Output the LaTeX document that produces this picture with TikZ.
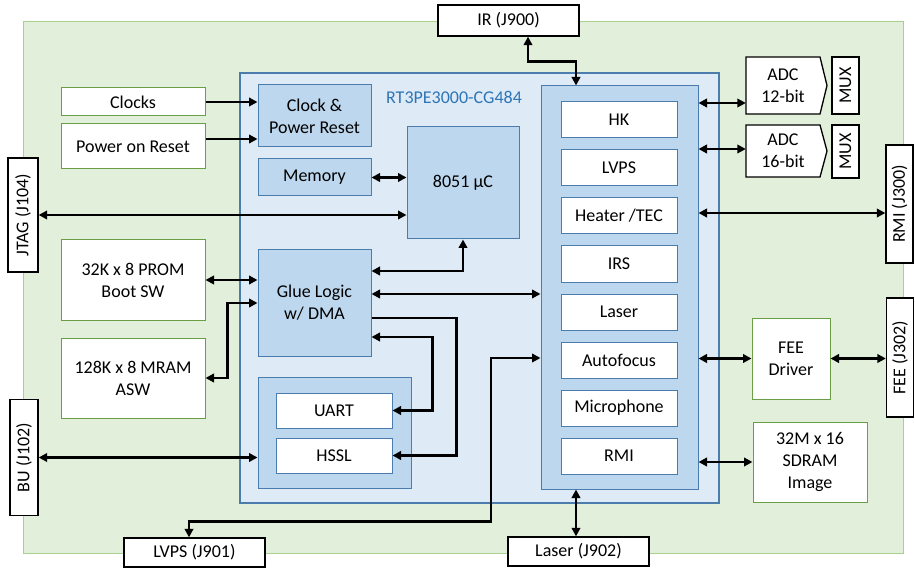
\documentclass[tikz,border=0pt]{standalone}
\usepackage{fontspec}
\setmainfont{Carlito}
\usetikzlibrary{arrows.meta}
\definecolor{bggreen}{HTML}{E2EFDA}
\definecolor{bggreenline}{HTML}{A9D18E}
\definecolor{fpgafill}{HTML}{DEEBF7}
\definecolor{blueline}{HTML}{4A7CAE}
\definecolor{blkfill}{HTML}{BDD7EE}
\definecolor{greenline}{HTML}{6A9F45}
\definecolor{labelblue}{HTML}{2E75B6}
\begin{document}
\begin{tikzpicture}[x=1pt,y=-1pt,
  font=\fontsize{18}{22}\selectfont,
  bgbox/.style={draw=bggreenline, fill=bggreen, line width=1pt, inner sep=0pt},
  fpgabox/.style={draw=blueline, fill=fpgafill, line width=1.2pt, inner sep=0pt},
  blk/.style={draw=blueline, fill=blkfill, line width=1pt, align=center, inner sep=0pt},
  mod/.style={draw=blueline, fill=white, line width=1pt, minimum width=116pt, minimum height=36pt, inner sep=0pt},
  ext/.style={draw=greenline, fill=white, line width=1pt, align=center, inner sep=0pt},
  conn/.style={draw=black, fill=white, line width=1.3pt, inner sep=0pt},
  plain/.style={inner sep=0pt, align=center},
  arr/.style={line width=2.7pt, -{Triangle[length=8.5pt,width=8.5pt]}},
  darr/.style={line width=2.7pt, {Triangle[length=8.5pt,width=8.5pt]}-{Triangle[length=8.5pt,width=8.5pt]}},
]
\useasboundingbox (0,0) rectangle (915,569);

% backgrounds
\node[bgbox, minimum width=880pt, minimum height=531pt] (board) at (463,287.5) {};
\node[fpgabox, minimum width=479pt, minimum height=430pt] (fpga) at (479.5,288) {};
\node[plain, text=labelblue] (fpgalabel) at (454,97) {RT3PE3000-CG484};

% FPGA inner blocks
\node[blk, minimum width=113pt, minimum height=62pt] (cpr) at (314.5,116) {Clock \&\\Power Reset};
\node[blk, minimum width=113pt, minimum height=37pt] (mem) at (314.5,177.5) {Memory};
\node[blk, minimum width=112pt, minimum height=112pt] (m8051) at (463,183) {8051 µC};
\node[blk, minimum width=113pt, minimum height=106pt] (glue) at (314.5,303) {Glue Logic\\w/ DMA};
\node[blk, minimum width=153pt, minimum height=111pt] (ser) at (334.5,432.5) {};
\node[mod, minimum height=35pt] (uart) at (334,410.5) {UART};
\node[mod, minimum height=35pt] (hssl) at (334,455.5) {HSSL};

% module column
\node[blk, minimum width=157pt, minimum height=403pt] (col) at (619.5,287.5) {};
\node[mod] (hk) at (619,120) {HK};
\node[mod] (lvps) at (619,168) {LVPS};
\node[mod] (heater) at (619,216) {Heater /TEC};
\node[mod] (irs) at (619,264) {IRS};
\node[mod] (laser) at (619,312) {Laser};
\node[mod] (af) at (619,360) {Autofocus};
\node[mod] (mic) at (619,408) {Microphone};
\node[mod] (rmi) at (619,456) {RMI};

% external blocks (green border)
\node[ext, minimum width=144pt, minimum height=28pt] (clocks) at (133,102) {Clocks};
\node[ext, minimum width=144pt, minimum height=45pt] (por) at (133,146.5) {Power on Reset};
\node[ext, minimum width=144pt, minimum height=80pt] (prom) at (133,280) {32K x 8 PROM\\Boot SW};
\node[ext, minimum width=144pt, minimum height=80pt] (mram) at (133,378) {128K x 8 MRAM\\ASW};
\node[ext, minimum width=78pt, minimum height=81pt] (fee) at (791,358.5) {FEE\\Driver};
\node[ext, minimum width=114pt, minimum height=80pt] (sdram) at (810,462) {32M x 16\\SDRAM\\Image};

% ADC / MUX
\draw[line width=1.3pt, fill=white] (746,57) -- (820,57) -- (827,85.5) -- (820,114) -- (746,114) -- cycle;
\node[plain, minimum width=74pt, minimum height=57pt] (adc12) at (783,85.5) {ADC\\12-bit};
\draw[line width=1.3pt, fill=white] (746,125) -- (820,125) -- (827,151) -- (820,177) -- (746,177) -- cycle;
\node[plain, minimum width=74pt, minimum height=52pt] (adc16) at (783,151) {ADC\\16-bit};
\node[conn, rotate=90, minimum width=57pt, minimum height=27pt] (mux12) at (845.5,85.5) {MUX};
\node[conn, rotate=90, minimum width=53pt, minimum height=27pt] (mux16) at (845.5,151.5) {MUX};

% connectors (black border)
\node[conn, minimum width=141pt, minimum height=31pt] (irj) at (508.5,20.5) {IR (J900)};
\node[conn, minimum width=141pt, minimum height=29pt] (lvpsj) at (194.5,552.5) {LVPS (J901)};
\node[conn, minimum width=141pt, minimum height=29pt] (laserj) at (578.5,551.5) {Laser (J902)};
\node[conn, rotate=90, minimum width=114pt, minimum height=30pt] (jtag) at (23,215) {JTAG (J104)};
\node[conn, rotate=90, minimum width=116pt, minimum height=28pt] (bu) at (24,457.5) {BU (J102)};
\node[conn, rotate=90, minimum width=118pt, minimum height=27pt] (rmij) at (899.5,204) {RMI (J300)};
\node[conn, rotate=90, minimum width=119pt, minimum height=27pt] (feej) at (900,357.5) {FEE (J302)};

% helper coordinates
\path (por.east) ++(0,-7.5) coordinate (porA);
\path (glue.east) ++(0,-32) coordinate (g1);
\path (glue.east) ++(0,-9) coordinate (g2);
\path (glue.east) ++(0,15) coordinate (g3);
\path (glue.east) ++(0,34) coordinate (g4);
\path (lvpsj.north) ++(-5.5,0) coordinate (l1);
\path (col.west) ++(0,70.5) coordinate (c1);
\path (irj.south) ++(19.5,0) coordinate (i1);
\path (col.north) ++(-43.5,0) coordinate (i2);
\path (adc12.west) ++(0,17.5) coordinate (a1);
\path (adc16.west) ++(0,-2) coordinate (a2);
\path (rmij.north) ++(0,9) coordinate (r1);

% arrows, left side
\draw[arr] (clocks.east) -- (clocks.east -| cpr.west);
\draw[arr] (porA) -- (porA -| cpr.west);
\draw[darr] (mem.east) -- (mem.east -| m8051.west);
\draw[darr] (jtag.south) -- (jtag.south -| m8051.west);
\draw[darr] (prom.east) -- (prom.east -| glue.west);
\draw[darr] (glue.west) -- ++(-30,0) |- (mram.east);
\draw[darr] (bu.south) -- (bu.south -| ser.west);

% arrows inside FPGA
\draw[darr] (m8051.south) |- (g1);
\draw[darr] (g2) -- (g2 -| col.west);
\draw[arr] (g3) -- ++(85,0) |- (hssl.east);
\draw[darr] (g4) -- ++(61,0) |- (uart.east);
\draw[darr] (l1) -- ++(0,-16) -- ++(302,0) |- (c1);

% top / bottom
\draw[darr] (i1) -- ++(0,25) -| (i2);
\draw[darr] (col.south -| i2) -- (laserj.north -| i2);

% right side
\draw[darr] (a1 -| col.east) -- (a1);
\draw[darr] (a2 -| col.east) -- (a2);
\draw[darr] (r1 -| col.east) -- (r1);
\draw[darr] (fee.west -| col.east) -- (fee.west);
\draw[darr] (fee.east) -- (fee.east -| feej.north);
\draw[darr] (sdram.west -| col.east) -- (sdram.west);
\end{tikzpicture}
\end{document}
